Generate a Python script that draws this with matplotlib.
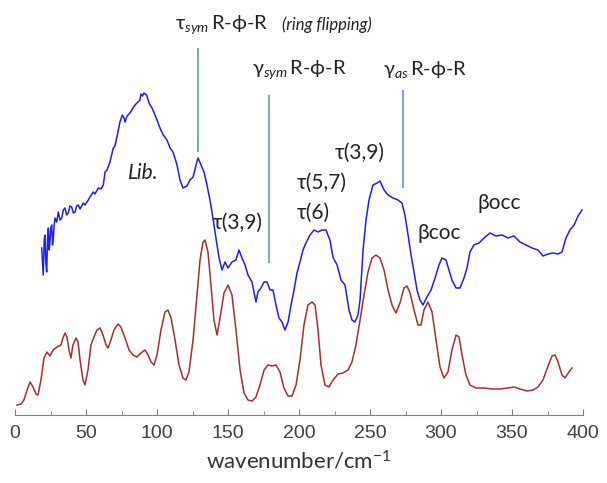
import numpy as np
import matplotlib
matplotlib.use("Agg")
import matplotlib.pyplot as plt
from matplotlib.ticker import MultipleLocator

plt.rcParams['font.family'] = ['Lato', 'DejaVu Sans']
plt.rcParams['mathtext.fontset'] = 'custom'
plt.rcParams['mathtext.rm'] = 'Lato'
plt.rcParams['mathtext.it'] = 'Lato:italic'
plt.rcParams['mathtext.fallback'] = 'stixsans'

# experimental INS spectrum (blue), arbitrary intensity units
exp_wn = [18.8, 19.4, 19.9, 20.6, 21.1, 21.7, 22.3, 22.9, 23.5, 24.1, 24.6, 25.2, 25.9, 26.4,
          27.0, 27.6, 28.2, 29.4, 30.5, 31.7, 32.9, 34.0, 35.2, 36.4, 37.5, 38.7, 39.9, 41.1,
          42.3, 43.4, 44.6, 45.8, 48.1, 49.3, 51.6, 52.8, 55.1, 56.3, 58.7, 60.6, 62.2, 63.4,
          64.8, 66.9, 69.2, 70.4, 71.6, 72.5, 73.9, 75.6, 76.8, 77.5, 78.9, 81.0, 83.1, 84.5,
          86.6, 88.0, 88.7, 89.8, 90.8, 92.7, 93.7, 95.1, 96.5, 98.6, 100.0, 102.1, 104.4,
          107.0, 109.2, 111.3, 114.1, 116.2, 118.3, 121.1, 123.2, 125.4, 127.5,
          128.9, 131.0, 133.1, 135.2, 137.3, 139.4, 141.5, 143.7, 145.8, 147.9, 150.0, 152.8,
          155.6, 157.7, 159.9, 162.0, 164.1, 166.9, 169.7, 171.1, 173.2, 175.4, 177.5, 179.6,
          181.7, 183.8, 185.9, 188.0, 190.1, 192.3, 194.4, 196.5, 198.6, 200.7, 202.8, 204.9,
          207.7, 210.6, 213.4, 216.2, 219.0, 221.8, 223.9, 226.8, 229.6, 232.4, 235.2, 237.3,
          239.4, 241.5, 243.0, 245.1, 247.2, 249.3, 252.1, 255.0, 257.0, 259.9, 262.7, 266.2,
          269.7, 272.5, 274.6, 276.8, 278.9, 281.0, 283.1, 285.2, 287.3, 290.1, 293.0, 295.8,
          298.6, 300.7, 303.5, 305.6, 307.7, 310.6, 313.4, 316.2, 318.3, 320.4, 323.2, 326.8,
          330.3, 334.5, 338.7, 343.0, 347.2, 351.4, 355.6, 359.9, 364.1, 368.3, 371.8, 375.4,
          378.9, 382.4, 385.2, 388.0, 390.8, 393.7, 396.5, 399.3]
exp_int = [167, 153, 140, 175, 180, 153, 143, 175, 187, 165, 173, 187, 190, 170,
           177, 190, 197, 193, 203, 195, 197, 205, 207, 200, 202, 209, 208, 202,
           203, 209, 210, 206, 212, 210, 215, 218, 223, 221, 227, 226, 230, 243,
           245, 253, 267, 269, 277, 283, 293, 300, 297, 293, 299, 302, 307, 310,
           313, 315, 321, 319, 322, 320, 315, 310, 307, 300, 295, 287, 280,
           275, 267, 263, 250, 235, 227, 229, 235, 238, 250,
           257, 250, 243, 230, 215, 197, 177, 157, 145, 153, 147, 153,
           155, 165, 157, 150, 140, 133, 113, 123, 127, 133, 133, 125,
           125, 110, 97, 93, 85, 93, 110, 125, 142, 153, 165, 172,
           180, 185, 183, 185, 185, 175, 158, 150, 135, 130, 105, 95,
           93, 100, 115, 165, 195, 215, 230, 232, 234, 225, 220, 217,
           215, 212, 200, 180, 160, 143, 125, 115, 110, 118, 125, 137,
           150, 157, 155, 145, 135, 127, 127, 137, 147, 163, 170, 172,
           177, 182, 179, 180, 177, 179, 173, 170, 167, 165, 159, 161,
           162, 161, 163, 177, 185, 190, 199, 205]

# calculated spectrum (dark red)
calc_wn = [1.4, 4.2, 6.3, 8.5, 10.6, 12.7, 14.8, 16.2, 18.3, 20.4, 22.5, 24.6, 26.8, 29.6,
           32.4, 33.8, 35.2, 36.6, 38.0, 39.4, 40.8, 43.0, 44.4, 45.8, 47.9, 49.3, 51.4, 53.5,
           55.6, 57.7, 59.9, 62.0, 64.1, 65.5, 67.6, 69.7, 72.5, 74.6, 77.5, 80.3, 83.1, 85.9,
           88.7, 91.5, 93.7, 95.8, 97.9, 100.0, 102.8, 105.6, 107.7, 109.9, 112.7, 115.5, 118.3,
           120.4, 122.5, 125.4, 128.2, 130.3, 132.4, 133.8, 135.9, 138.0, 140.1, 142.3, 144.4,
           147.2, 150.0, 152.8, 155.6, 158.5, 161.3, 164.1, 166.9, 169.7, 172.5, 175.4, 178.2,
           181.0, 183.8, 186.6, 189.4, 192.3, 195.1, 197.9, 200.7, 203.5, 206.3, 209.2, 211.3,
           213.4, 215.5, 218.3, 221.1, 224.0, 227.5, 231.0, 234.5, 237.3, 240.1, 243.0, 245.8,
           248.6, 251.4, 254.2, 257.0, 259.9, 262.7, 265.5, 268.3, 271.1, 273.9, 276.1, 278.2,
           281.0, 283.8, 285.9, 288.0, 290.8, 293.7, 296.5, 299.3, 302.1, 304.9, 307.7, 310.6,
           312.7, 314.8, 317.6, 320.4, 324.6, 330.3, 335.9, 341.5, 347.2, 351.4, 355.6, 360.6,
           364.8, 368.3, 371.8, 375.4, 378.2, 380.3, 382.4, 385.2, 387.3, 390.1, 392.3]
calc_int = [10, 11, 15, 25, 33, 28, 21, 20, 35, 57, 63, 59, 65, 68,
            70, 77, 82, 78, 65, 57, 70, 77, 73, 55, 35, 30, 45, 70,
            78, 85, 87, 80, 70, 67, 75, 85, 91, 88, 77, 65, 60, 58,
            62, 65, 60, 53, 50, 60, 85, 103, 105, 97, 75, 50, 37,
            35, 43, 75, 120, 155, 173, 175, 163, 130, 95, 80, 97,
            122, 130, 120, 85, 45, 22, 15, 14, 18, 30, 45, 50,
            49, 50, 43, 27, 19, 19, 30, 55, 90, 110, 113, 110,
            85, 50, 30, 28, 35, 41, 42, 45, 53, 70, 95, 120,
            143, 157, 160, 157, 145, 125, 110, 102, 112, 127, 129, 122,
            105, 90, 90, 105, 113, 103, 75, 48, 37, 43, 65, 80,
            78, 60, 40, 30, 27, 27, 26, 26, 27, 28, 26, 24,
            25, 28, 35, 49, 59, 60, 53, 40, 37, 43, 47]

# assignment markers: (x, bottom, top)
mark_x = [128.9, 178.9, 273.2]
mark_lo = [263, 152, 227]
mark_hi = [367, 320, 325]

fig = plt.figure(figsize=(6.07, 4.83), dpi=100)
ax = fig.add_axes([15 / 607, 68 / 483, 568 / 607, 415 / 483])

ax.plot(exp_wn, exp_int, color='#1f1fe6', lw=1.1)
ax.plot(calc_wn, calc_int, color='#a3302e', lw=1.1)
ax.vlines(mark_x, mark_lo, mark_hi, color='#7ba3d0', lw=1.4)

ax.set_xlim(0, 400)
ax.set_ylim(0, 415)
ax.xaxis.set_major_locator(MultipleLocator(50))
ax.xaxis.set_minor_locator(MultipleLocator(25))
for s in ['left', 'right', 'top']:
    ax.spines[s].set_visible(False)
ax.spines['bottom'].set_color('#808080')
ax.set_yticks([])
ax.tick_params(axis='x', which='both', direction='in', colors='#808080', pad=7)
ax.tick_params(axis='x', which='major', length=4, labelsize=14, labelcolor='#404040')
ax.tick_params(axis='x', which='minor', length=3)
for lab in ax.get_xticklabels():
    lab.set_fontfamily(['Liberation Sans', 'DejaVu Sans'])
ax.set_xlabel('wavenumber/cm$^{-1}$', fontsize=16, color='#333333', labelpad=6)

tc = '#222222'
fs = 15
ax.text(112.5, 390, r'τ$_{\mathit{sym}}\,$R-ϕ-R', fontsize=14.5, color=tc, va='center')
ax.text(188, 390, '(ring flipping)', fontsize=12, style='italic', color=tc, va='center')
ax.text(166.9, 345, r'γ$_{\mathit{sym}}\,$R-ϕ-R', fontsize=14.5, color=tc, va='center')
ax.text(259.2, 345, r'γ$_{\mathit{as}}\,$R-ϕ-R', fontsize=14.5, color=tc, va='center')
ax.text(79.6, 242, 'Lib.', fontsize=fs, style='italic', color=tc, va='center')
ax.text(139.4, 192, 'τ(3,9)', fontsize=fs, color=tc, va='center')
ax.text(198.6, 232, 'τ(5,7)', fontsize=fs, color=tc, va='center')
ax.text(198.6, 202, 'τ(6)', fontsize=fs, color=tc, va='center')
ax.text(225.4, 262, 'τ(3,9)', fontsize=fs, color=tc, va='center')
ax.text(283.8, 182, 'βcoc', fontsize=fs, color=tc, va='center')
ax.text(325.4, 212, 'βocc', fontsize=fs, color=tc, va='center')

fig.savefig('out.png', dpi=100)
